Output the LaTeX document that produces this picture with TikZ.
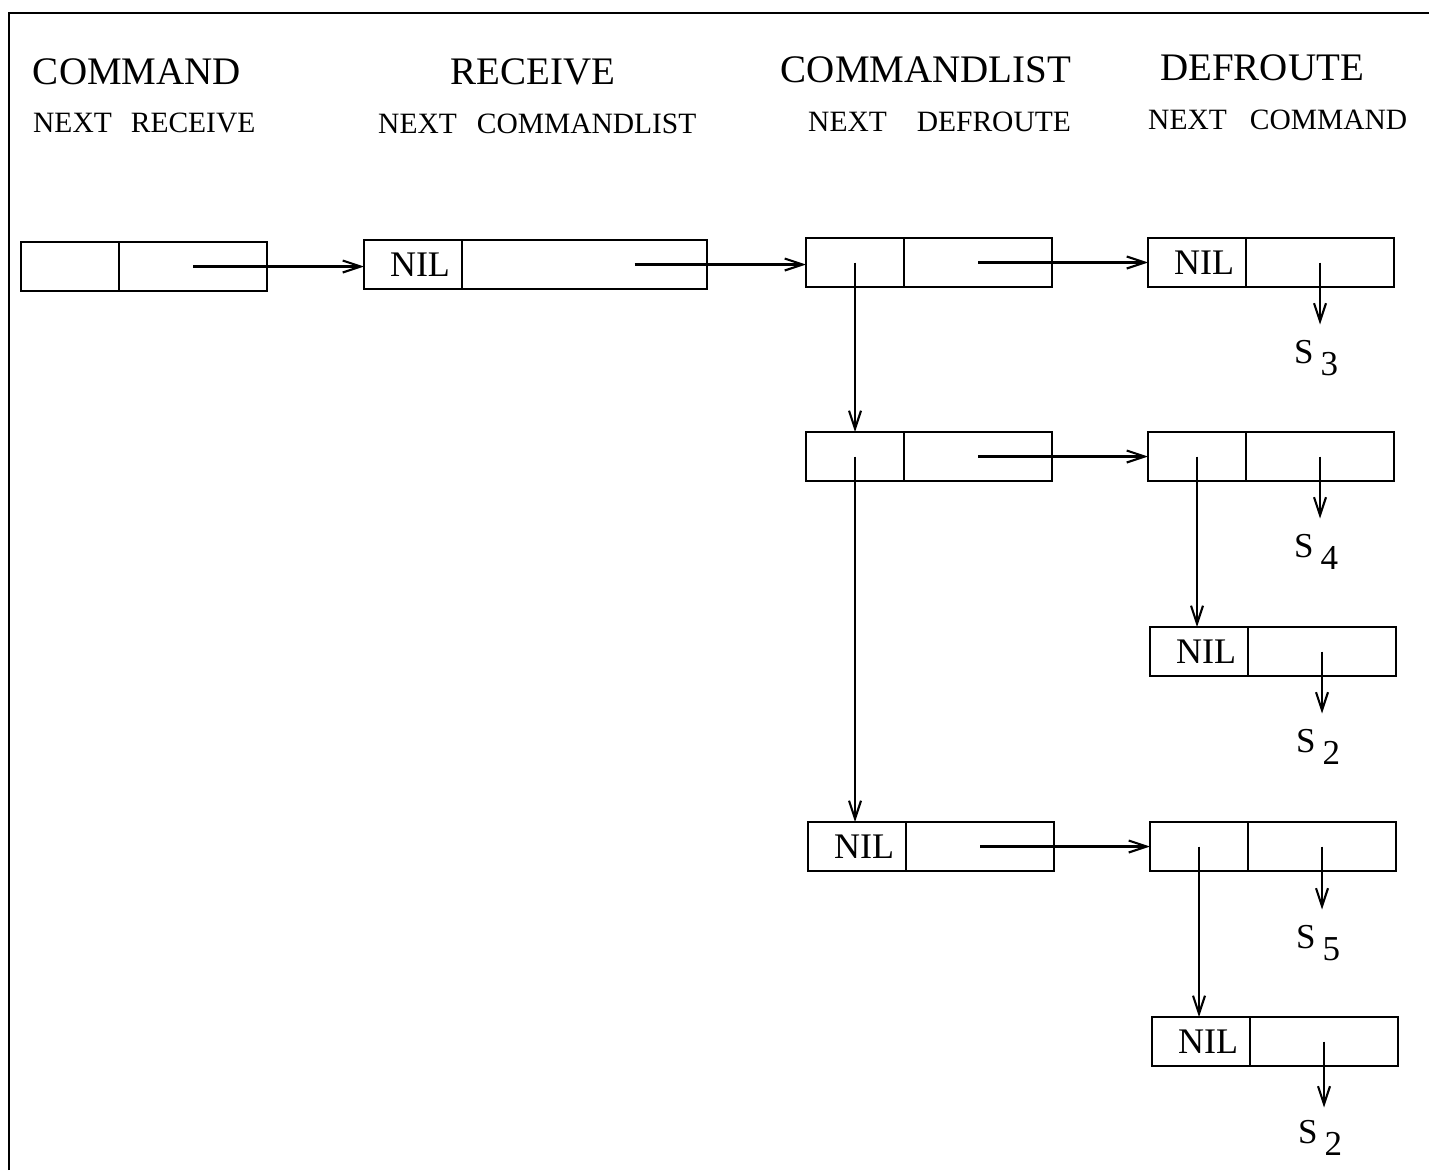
\documentclass[tikz,border=0pt]{standalone}
\usepackage{fontspec}
\setmainfont{Liberation Serif}
\usetikzlibrary{positioning,arrows.meta}

\tikzset{
  lcell/.style={draw, line width=2.2pt, inner sep=0pt, outer sep=0pt,
    minimum width=98pt, minimum height=49pt, font=\fontsize{36}{36}\selectfont},
  rcell/.style={lcell, minimum width=148pt},
  ptr/.style={line width=2.1pt, -{Straight Barb[length=18pt,width=12pt]}},
  title/.style={anchor=base, inner sep=0pt, font=\fontsize{39}{40}\selectfont},
  fields/.style={anchor=base west, inner sep=0pt, font=\fontsize{29.5}{30}\selectfont},
  slabel/.style={anchor=north, inner sep=0pt, font=\fontsize{35}{35}\selectfont},
}
\newcommand{\slab}[1]{S\hspace{7pt}\raisebox{-12pt}{#1}}
\newcommand{\nilmark}{\kern14pt NIL}

\begin{document}
\begin{tikzpicture}[x=1pt, y=-1pt]
        \useasboundingbox (0,0) rectangle (1429,1170);

        % frame (top and left edge only)
        \draw[line width=2.2pt] (9,1170) -- (9,13) -- (1429,13);

        % record headings
        \node[title] (cmdT) at (137,84) {COMMAND};
        \node[fields] (cmdF) at (33,132) {NEXT\hspace{19pt}RECEIVE};
        \node[title] (rcvT) at (533,84) {RECEIVE};
        \node[fields] (rcvF) at (378,133) {NEXT\hspace{20pt}COMMANDLIST};
        \node[title] (clT) at (926,82) {COMMANDLIST};
        \node[fields] (clF) at (808,131) {NEXT\hspace{30pt}DEFROUTE};
        \node[title] (drT) at (1262,80) {DEFROUTE};
        \node[fields] (drF) at (1148,129) {NEXT\hspace{23pt}COMMAND};

        % COMMAND and RECEIVE cells
        \node[lcell, anchor=north west] (a1) at (21,242) {};
        \node[rcell, right=0pt of a1] (a2) {};
        \node[lcell, anchor=north west] (b1) at (364,240) {\nilmark};
        \node[rcell, minimum width=245pt, right=0pt of b1] (b2) {};

        % COMMANDLIST column
        \node[lcell, anchor=north west] (c1l) at (806,238) {};
        \node[rcell, right=0pt of c1l] (c1r) {};
        \node[lcell, anchor=north west] (c2l) at (806,432) {};
        \node[rcell, right=0pt of c2l] (c2r) {};
        \node[lcell, anchor=north west] (c3l) at (808,822) {\nilmark};
        \node[rcell, right=0pt of c3l] (c3r) {};

        % DEFROUTE column
        \node[lcell, anchor=north west] (d1l) at (1148,238) {\nilmark};
        \node[rcell, right=0pt of d1l] (d1r) {};
        \node[lcell, anchor=north west] (d2l) at (1148,432) {};
        \node[rcell, right=0pt of d2l] (d2r) {};
        \node[lcell, anchor=north west] (d3l) at (1150,627) {\nilmark};
        \node[rcell, right=0pt of d3l] (d3r) {};
        \node[lcell, anchor=north west] (d4l) at (1150,822) {};
        \node[rcell, right=0pt of d4l] (d4r) {};
        \node[lcell, anchor=north west] (d5l) at (1152,1017) {\nilmark};
        \node[rcell, right=0pt of d5l] (d5r) {};

        % NEXT pointers to the right
        \draw[ptr] (a2.center) -- (a2.center -| b1.west);
        \coordinate (bnext) at ([xshift=50pt]b2.center);
        \draw[ptr] (bnext) -- (bnext -| c1l.west);
        \draw[ptr] (c1r.center) -- (c1r.center -| d1l.west);
        \draw[ptr] (c2r.center) -- (c2r.center -| d2l.west);
        \draw[ptr] (c3r.center) -- (c3r.center -| d4l.west);

        % pointers down the lists
        \draw[ptr] (c1l.center) -- (c1l.center |- c2l.north);
        \draw[ptr] (c2l.center) -- (c2l.center |- c3l.north);
        \draw[ptr] (d2l.center) -- (d2l.center |- d3l.north);
        \draw[ptr] (d4l.center) -- (d4l.center |- d5l.north);

        % COMMAND pointers to the S sets
        \coordinate (s3) at ([yshift=-62pt]d1r.center);
        \coordinate (s4) at ([yshift=-62pt]d2r.center);
        \coordinate (s2a) at ([yshift=-62pt]d3r.center);
        \coordinate (s5) at ([yshift=-63pt]d4r.center);
        \coordinate (s2b) at ([yshift=-66pt]d5r.center);
        \draw[ptr] (d1r.center) -- (s3);
        \draw[ptr] (d2r.center) -- (s4);
        \draw[ptr] (d3r.center) -- (s2a);
        \draw[ptr] (d4r.center) -- (s5);
        \draw[ptr] (d5r.center) -- (s2b);
        \node[slabel] (s3lab) at ([xshift=-4pt, yshift=-16pt]s3) {\slab{3}};
        \node[slabel] (s4lab) at ([xshift=-4pt, yshift=-16pt]s4) {\slab{4}};
        \node[slabel] (s2alab) at ([xshift=-4pt, yshift=-16pt]s2a) {\slab{2}};
        \node[slabel] (s5lab) at ([xshift=-4pt, yshift=-16pt]s5) {\slab{5}};
        \node[slabel] (s2blab) at ([xshift=-4pt, yshift=-13pt]s2b) {\slab{2}};
    \end{tikzpicture}
\end{document}
